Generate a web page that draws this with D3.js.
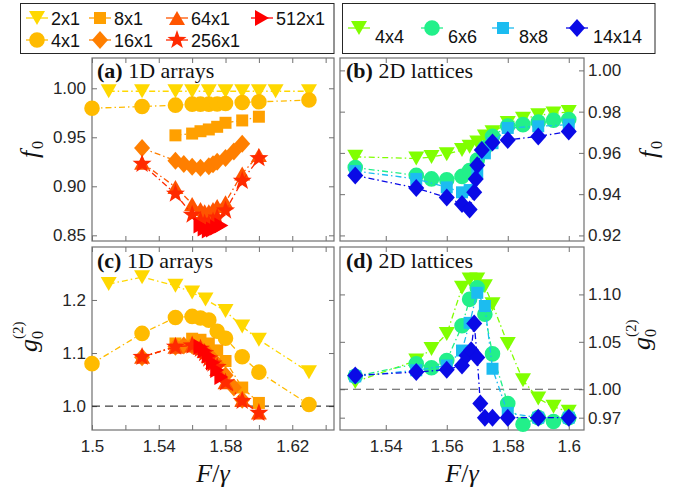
<!DOCTYPE html>
<html lang="en">
<head>
<meta charset="UTF-8">
<title>f0 and g2 versus F/gamma</title>
<script src="https://d3js.org/d3.v7.min.js"></script>
<style>
  body { margin: 0; background: #fff; }
  svg { display: block; }
  .tick text { font-family: "Liberation Sans", Arial, sans-serif; font-size: 17px; fill: #262626; }
  .tick line { stroke: #707070; stroke-width: 1; }
  .leg { font-family: "Liberation Sans", Arial, sans-serif; font-size: 18px; fill: #111; }
  .plab { font-family: "Liberation Serif", serif; font-size: 22px; fill: #111; }
  .alab { font-family: "Liberation Serif", serif; fill: #111; }
</style>
</head>
<body>
<div id="chart"></div>
<script>
// ---------- 1D arrays: panels (a) f0 and (c) g2
const x2a   = [1.51, 1.53, 1.55, 1.56, 1.57, 1.58, 1.59, 1.60, 1.61, 1.63];
const f2    = [0.997, 0.997, 0.997, 0.997, 0.997, 0.997, 0.997, 0.997, 0.997, 0.997];
const x2c   = [1.51, 1.53, 1.55, 1.56, 1.568, 1.58, 1.59, 1.60, 1.63];
const g2    = [1.230, 1.243, 1.227, 1.214, 1.201, 1.179, 1.150, 1.125, 1.064];

const x4    = [1.50, 1.53, 1.55, 1.56, 1.565, 1.57, 1.575, 1.58, 1.59, 1.60, 1.63];
const f4    = [0.9797, 0.9814, 0.9828, 0.9838, 0.9838, 0.9838, 0.984, 0.9845, 0.9855, 0.9862, 0.988];
const g4    = [1.080, 1.137, 1.167, 1.169, 1.166, 1.162, 1.141, 1.128, 1.093, 1.064, 1.003];

const x8    = [1.55, 1.56, 1.565, 1.57, 1.575, 1.58, 1.59, 1.60];
const f8    = [0.952, 0.9538, 0.9562, 0.958, 0.9607, 0.9648, 0.9672, 0.971];
const g8    = [1.118, 1.127, 1.125, 1.118, 1.105, 1.085, 1.035, 1.006];

const x16   = [1.53, 1.55, 1.555, 1.56, 1.565, 1.57, 1.5725, 1.575, 1.58, 1.585, 1.59];
const f16   = [0.939, 0.9262, 0.9228, 0.920, 0.919, 0.9205, 0.9225, 0.925, 0.929, 0.9355, 0.9434];
const g16   = [1.092, 1.112, 1.114, 1.114, 1.108, 1.097, 1.088, 1.078, 1.058, 1.035, 1.012];

const x64   = [1.53, 1.55, 1.56, 1.565, 1.5675, 1.57, 1.5725, 1.575, 1.58, 1.59, 1.60];
const f64   = [0.9241, 0.8993, 0.882, 0.8769, 0.8745, 0.8745, 0.8769, 0.880, 0.8838, 0.9131, 0.932];
const g64   = [1.093, 1.112, 1.114, 1.110, 1.104, 1.095, 1.083, 1.070, 1.045, 1.012, 0.988];

const x256  = [1.53, 1.55, 1.56, 1.565, 1.5675, 1.57, 1.5725, 1.575, 1.58, 1.59, 1.60];
const f256  = [0.9228, 0.8924, 0.871, 0.8648, 0.862, 0.8614, 0.864, 0.868, 0.8752, 0.9055, 0.9286];
const g256  = [1.0926, 1.1118, 1.114, 1.108, 1.100, 1.0895, 1.080, 1.0735, 1.0447, 1.0096, 0.9872];

const x512  = [1.565, 1.5675, 1.57, 1.5725, 1.575, 1.5775];
const f512  = [0.860, 0.857, 0.855, 0.856, 0.858, 0.860];
const g512  = [1.112, 1.105, 1.095, 1.082, 1.068, 1.055];

// ---------- 2D lattices: panels (b) f0 and (d) g2
const x44   = [1.53, 1.55, 1.555, 1.56, 1.565, 1.5675, 1.57, 1.5725, 1.575, 1.58, 1.585, 1.59, 1.595, 1.60];
const f44   = [0.9581, 0.9573, 0.958, 0.9594, 0.9614, 0.963, 0.965, 0.968, 0.970, 0.9745, 0.9765, 0.9782, 0.9791, 0.9798];
const g44   = [1.0077, 1.0303, 1.0425, 1.0582, 1.107, 1.1157, 1.1157, 1.1087, 1.0895, 1.0477, 1.0094, 0.9902, 0.9815, 0.9763];

const x66   = [1.53, 1.55, 1.555, 1.56, 1.565, 1.5675, 1.57, 1.5725, 1.575, 1.58, 1.585, 1.59, 1.595, 1.60];
const f66   = [0.9529, 0.9491, 0.9474, 0.947, 0.9486, 0.9515, 0.9565, 0.9625, 0.968, 0.973, 0.9737, 0.975, 0.9758, 0.9762];
const g66   = [1.0136, 1.0268, 1.0226, 1.0303, 1.0669, 1.0948, 1.107, 1.0791, 1.0373, 0.985, 0.963, 0.970, 0.966, 0.970];

const x88   = [1.53, 1.55, 1.56, 1.565, 1.5675, 1.57, 1.5725, 1.575, 1.58, 1.59, 1.60];
const f88   = [0.9512, 0.9474, 0.9433, 0.9409, 0.942, 0.9507, 0.9598, 0.9647, 0.9721, 0.9729, 0.9737];
const g88   = [1.0136, 1.020, 1.025, 1.0408, 1.070, 1.1017, 1.0878, 1.0216, 0.975, 0.970, 0.970];

const x1414b = [1.53, 1.55, 1.56, 1.565, 1.5675, 1.569, 1.5695, 1.57, 1.5715, 1.575, 1.58, 1.59, 1.60];
const f1414  = [0.9491, 0.943, 0.9384, 0.9352, 0.9326, 0.9409, 0.9474, 0.954, 0.9614, 0.965, 0.9663, 0.968, 0.9704];
const x1414d = [1.53, 1.55, 1.56, 1.565, 1.5665, 1.568, 1.569, 1.57, 1.571, 1.5725, 1.575, 1.58, 1.59, 1.60];
const g1414  = [1.0146, 1.0181, 1.0206, 1.0251, 1.0355, 1.041, 1.0693, 1.0335, 0.985, 0.970, 0.970, 0.970, 0.970, 0.970];

// ---------- ticks
const xTicksL  = [1.50, 1.52, 1.54, 1.56, 1.58, 1.60, 1.62, 1.64];
const xLabelsL = ['1.5', '', '1.54', '', '1.58', '', '1.62', ''];
const xTicksR  = [1.54, 1.56, 1.58, 1.60];
const xLabelsR = ['1.54', '1.56', '1.58', '1.6'];
const yTicksA  = [0.85, 0.90, 0.95, 1.00];
const yLabelsA = ['0.85', '0.90', '0.95', '1.00'];
const yTicksB  = [0.92, 0.94, 0.96, 0.98, 1.00];
const yLabelsB = ['0.92', '0.94', '0.96', '0.98', '1.00'];
const yTicksC  = [1.0, 1.1, 1.2];
const yLabelsC = ['1.0', '1.1', '1.2'];
const yTicksD  = [0.97, 1.00, 1.05, 1.10];
const yLabelsD = ['0.97', '1.00', '1.05', '1.10'];

const W = 685, H = 491;
const svg = d3.select('#chart').append('svg').attr('width', W).attr('height', H);
svg.append('rect').attr('width', W).attr('height', H).attr('fill', '#fff');

const xL = d3.scaleLinear().domain([1.5, 1.645]).range([92, 334]);
const xR = d3.scaleLinear().domain([1.525, 1.605]).range([340, 584]);
const yA = d3.scaleLinear().domain([0.8442, 1.0309]).range([241, 58]);
const yB = d3.scaleLinear().domain([0.9173, 1.006]).range([241, 58]);
const yC = d3.scaleLinear().domain([0.955, 1.2998]).range([430, 247]);
const yD = d3.scaleLinear().domain([0.957, 1.150]).range([430, 247]);

function starPath(ro) {
  const ri = ro * 0.40, pts = [];
  for (let k = 0; k < 10; k++) {
    const r = k % 2 ? ri : ro, a = -Math.PI / 2 + k * Math.PI / 5;
    pts.push([r * Math.cos(a), r * Math.sin(a)]);
  }
  return 'M' + pts.map(p => p[0].toFixed(2) + ',' + p[1].toFixed(2)).join('L') + 'Z';
}
const shapes = {
  tdown: 'M-8,-7L8,-7L0,7Z',
  tup: 'M-8,7L8,7L0,-7Z',
  tright: 'M-7,-8L-7,8L7,0Z',
  circle: d3.symbol(d3.symbolCircle, Math.PI * 7.8 * 7.8)(),
  square: 'M-6,-6h12v12h-12Z',
  diamond: 'M0,-9L8,0L0,9L-8,0Z',
  star: starPath(10)
};

const series1D = [
  {name: '2x1',   color: '#ffd800', shape: 'tdown',  xa: x2a,  fa: f2,   xc: x2c,  gc: g2},
  {name: '4x1',   color: '#ffbb00', shape: 'circle', xa: x4,   fa: f4,   xc: x4,   gc: g4},
  {name: '8x1',   color: '#ffa000', shape: 'square', xa: x8,   fa: f8,   xc: x8,   gc: g8},
  {name: '16x1',  color: '#ff7f00', shape: 'diamond',xa: x16,  fa: f16,  xc: x16,  gc: g16},
  {name: '64x1',  color: '#ff5500', shape: 'tup',    xa: x64,  fa: f64,  xc: x64,  gc: g64},
  {name: '256x1', color: '#ff2a00', shape: 'star',   xa: x256, fa: f256, xc: x256, gc: g256},
  {name: '512x1', color: '#ff0000', shape: 'tright', xa: x512, fa: f512, xc: x512, gc: g512}
];
const series2D = [
  {name: '4x4',   color: '#80ff00', shape: 'tdown',  xb: x44,    fb: f44,   xd: x44,    gd: g44},
  {name: '6x6',   color: '#22f08a', shape: 'circle', xb: x66,    fb: f66,   xd: x66,    gd: g66},
  {name: '8x8',   color: '#1cbcf0', shape: 'square', xb: x88,    fb: f88,   xd: x88,    gd: g88},
  {name: '14x14', color: '#0a0ae6', shape: 'diamond',xb: x1414b, fb: f1414, xd: x1414d, gd: g1414}
];

const dash = '6,3,1.5,3';

function drawAxes(x, y, xt, xl, yt, yl, labelSide) {
  const g = svg.append('g');
  const [y0, y1] = y.range(), [x0, x1] = x.range();
  g.append('g').attr('transform', `translate(0,${y0})`)
    .call(d3.axisBottom(x).tickValues(xt).tickSize(-5).tickSizeOuter(0).tickPadding(10)
      .tickFormat((d, i) => xl[i]));
  g.append('g').attr('transform', `translate(0,${y1})`)
    .call(d3.axisTop(x).tickValues(xt).tickSize(-5).tickSizeOuter(0).tickFormat(''));
  g.append('g').attr('transform', `translate(${x0},0)`)
    .call(d3.axisLeft(y).tickValues(yt).tickSize(-5).tickSizeOuter(0).tickPadding(6)
      .tickFormat((d, i) => labelSide === 'left' ? yl[i] : ''));
  g.append('g').attr('transform', `translate(${x1},0)`)
    .call(d3.axisRight(y).tickValues(yt).tickSize(-5).tickSizeOuter(0).tickPadding(4)
      .tickFormat((d, i) => labelSide === 'right' ? yl[i] : ''));
  g.selectAll('.domain').remove();
  g.append('rect').attr('x', x0).attr('y', y1).attr('width', x1 - x0).attr('height', y0 - y1)
    .attr('fill', 'none').attr('stroke', '#707070').attr('stroke-width', 1.2);
}

function drawSeries(x, y, xs, ys, s) {
  const line = d3.line().x((d, i) => x(xs[i])).y(d => y(d));
  const g = svg.append('g');
  g.append('path').datum(ys).attr('d', line).attr('fill', 'none')
    .attr('stroke', s.color).attr('stroke-width', 1.3).attr('stroke-dasharray', dash);
  g.selectAll('path.m').data(ys).enter().append('path').attr('class', 'm')
    .attr('d', shapes[s.shape]).attr('fill', s.color)
    .attr('transform', (d, i) => `translate(${x(xs[i])},${y(d)})`);
}

// panel frames
drawAxes(xL, yA, xTicksL, xTicksL.map(() => ''), yTicksA, yLabelsA, 'left');
drawAxes(xR, yB, xTicksR, xTicksR.map(() => ''), yTicksB, yLabelsB, 'right');
drawAxes(xL, yC, xTicksL, xLabelsL, yTicksC, yLabelsC, 'left');
drawAxes(xR, yD, xTicksR, xLabelsR, yTicksD, yLabelsD, 'right');

// reference lines g2 = 1
svg.append('line').attr('x1', xL.range()[0]).attr('x2', xL.range()[1])
  .attr('y1', yC(1)).attr('y2', yC(1)).attr('stroke', '#111').attr('stroke-width', 1).attr('stroke-dasharray', '8,5');
svg.append('line').attr('x1', xR.range()[0]).attr('x2', xR.range()[1])
  .attr('y1', yD(1)).attr('y2', yD(1)).attr('stroke', '#555').attr('stroke-width', 1.2).attr('stroke-dasharray', '8,5');

series1D.forEach(s => drawSeries(xL, yA, s.xa, s.fa, s));
series1D.forEach(s => drawSeries(xL, yC, s.xc, s.gc, s));
series2D.forEach(s => drawSeries(xR, yB, s.xb, s.fb, s));
series2D.forEach(s => drawSeries(xR, yD, s.xd, s.gd, s));

// panel labels
[['(a)', ' 1D arrays', 97, 78], ['(b)', ' 2D lattices', 346, 78],
 ['(c)', ' 1D arrays', 97, 268], ['(d)', ' 2D lattices', 346, 268]].forEach(p => {
  const t = svg.append('text').attr('class', 'plab').attr('x', p[2]).attr('y', p[3]);
  t.append('tspan').attr('font-weight', 'bold').text(p[0]);
  t.append('tspan').text(p[1]);
});

// axis titles
function fLabel(cx, cy) {
  const g = svg.append('g').attr('transform', `translate(${cx},${cy}) rotate(-90)`);
  g.append('text').attr('class', 'alab').attr('x', -8).attr('y', 6)
    .attr('font-size', 26).attr('font-style', 'italic').text('f');
  g.append('text').attr('class', 'alab').attr('x', 1).attr('y', 11).attr('font-size', 16).text('0');
}
function gLabel(cx, cy) {
  const g = svg.append('g').attr('transform', `translate(${cx},${cy}) rotate(-90)`);
  g.append('text').attr('class', 'alab').attr('x', -14).attr('y', 5)
    .attr('font-size', 26).attr('font-style', 'italic').text('g');
  g.append('text').attr('class', 'alab').attr('x', -1).attr('y', 11).attr('font-size', 16).text('0');
  g.append('text').attr('class', 'alab').attr('x', -1).attr('y', -9).attr('font-size', 15).text('(2)');
}
fLabel(32, 150);
fLabel(651, 150);
gLabel(32, 338);
gLabel(645, 336);

[213, 462].forEach(cx => {
  const t = svg.append('text').attr('class', 'alab').attr('x', cx).attr('y', 482)
    .attr('text-anchor', 'middle').attr('font-size', 26);
  t.append('tspan').attr('font-style', 'italic').text('F');
  t.append('tspan').text('/');
  t.append('tspan').attr('font-style', 'italic').text('γ');
});

// legends
function legendEntry(s, mx, my, tx, ty) {
  const g = svg.append('g');
  g.append('line').attr('x1', mx - 11).attr('x2', mx + 11).attr('y1', my).attr('y2', my)
    .attr('stroke', s.color).attr('stroke-width', 1.3);
  g.append('path').attr('d', shapes[s.shape]).attr('fill', s.color)
    .attr('transform', `translate(${mx},${my})`);
  g.append('text').attr('class', 'leg').attr('x', tx).attr('y', ty).text(s.name);
}
svg.append('rect').attr('x', 20.5).attr('y', 3.5).attr('width', 313.5).attr('height', 50)
  .attr('fill', '#fff').attr('stroke', '#262626').attr('stroke-width', 1);
svg.append('rect').attr('x', 342.5).attr('y', 3.5).attr('width', 312.5).attr('height', 50)
  .attr('fill', '#fff').attr('stroke', '#262626').attr('stroke-width', 1);

const legCols1D = [37, 100, 177, 262];
const legPos1D = [[0, 1], [0, 2], [1, 1], [1, 2], [2, 1], [2, 2], [3, 1]];
series1D.forEach((s, i) => {
  const c = legPos1D[i][0], r = legPos1D[i][1];
  const my = r === 1 ? 18 : 40;
  legendEntry(s, legCols1D[c], my, legCols1D[c] + 14, my + 7);
});
const legCols2D = [359, 432, 503, 577];
series2D.forEach((s, i) => legendEntry(s, legCols2D[i], 28, legCols2D[i] + 16, 43));
</script>
</body>
</html>
